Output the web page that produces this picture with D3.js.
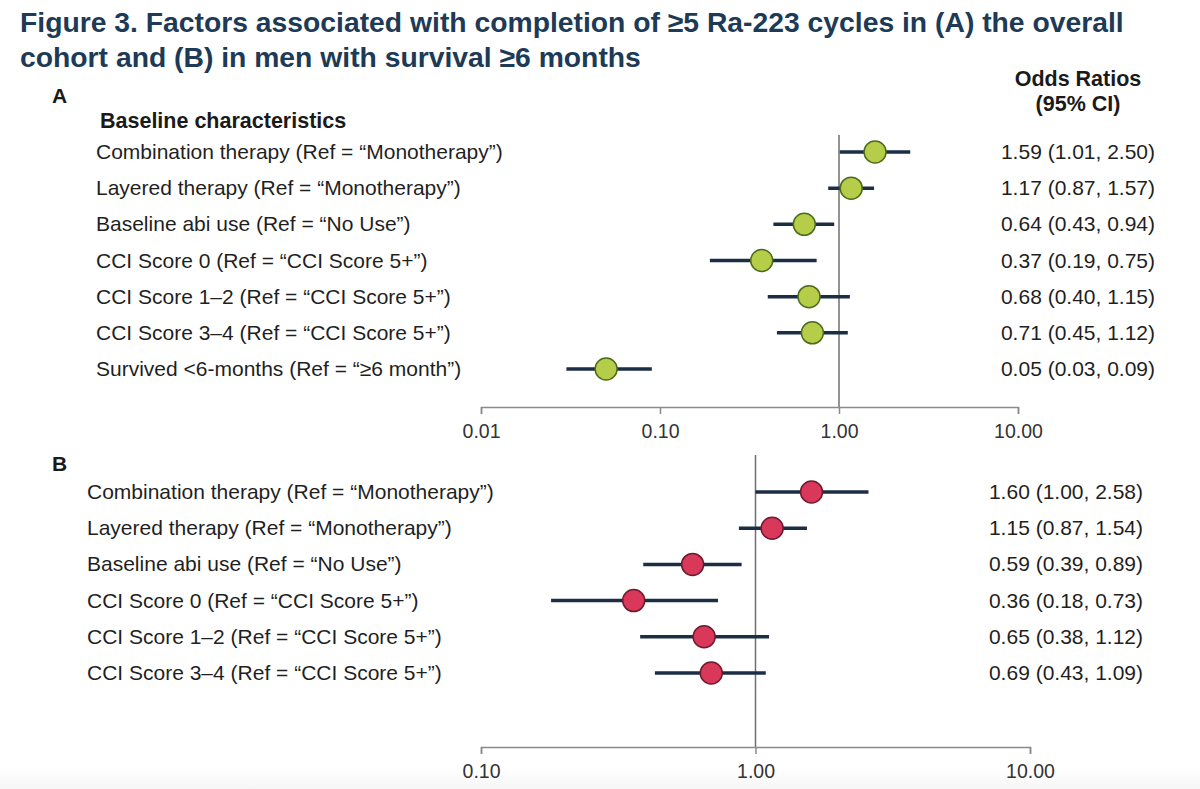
<!DOCTYPE html>
<html>
<head>
<meta charset="utf-8">
<script src="https://cdn.jsdelivr.net/npm/d3@7"></script>
<style>
  html, body { margin: 0; padding: 0; background: #ffffff; }
  svg { display: block; font-family: "Liberation Sans", Arial, sans-serif; }
</style>
</head>
<body>
<svg id="chart" width="1200" height="789"></svg>
<script>
// ---------- DATA ----------
const labelsA = [
  "Combination therapy (Ref = \u201CMonotherapy\u201D)",
  "Layered therapy (Ref = \u201CMonotherapy\u201D)",
  "Baseline abi use (Ref = \u201CNo Use\u201D)",
  "CCI Score 0 (Ref = \u201CCCI Score 5+\u201D)",
  "CCI Score 1\u20132 (Ref = \u201CCCI Score 5+\u201D)",
  "CCI Score 3\u20134 (Ref = \u201CCCI Score 5+\u201D)",
  "Survived <6-months (Ref = \u201C\u22656 month\u201D)"
];
const orA = [1.59, 1.17, 0.64, 0.37, 0.68, 0.71, 0.05];
const loA = [1.01, 0.87, 0.43, 0.19, 0.40, 0.45, 0.03];
const hiA = [2.50, 1.57, 0.94, 0.75, 1.15, 1.12, 0.09];

const labelsB = [
  "Combination therapy (Ref = \u201CMonotherapy\u201D)",
  "Layered therapy (Ref = \u201CMonotherapy\u201D)",
  "Baseline abi use (Ref = \u201CNo Use\u201D)",
  "CCI Score 0 (Ref = \u201CCCI Score 5+\u201D)",
  "CCI Score 1\u20132 (Ref = \u201CCCI Score 5+\u201D)",
  "CCI Score 3\u20134 (Ref = \u201CCCI Score 5+\u201D)"
];
const orB = [1.60, 1.15, 0.59, 0.36, 0.65, 0.69];
const loB = [1.00, 0.87, 0.39, 0.18, 0.38, 0.43];
const hiB = [2.58, 1.54, 0.89, 0.73, 1.12, 1.09];

const ticksA = [0.01, 0.1, 1, 10];
const ticksB = [0.1, 1, 10];
const tickFmt = d3.format(".2f");

// ---------- DRAW ----------
const svg = d3.select("#chart");
const fmtCI = (o, l, h) => `${o.toFixed(2)} (${l.toFixed(2)}, ${h.toFixed(2)})`;

// bottom faint gradient band
const defs = svg.append("defs");
const grad = defs.append("linearGradient").attr("id", "bandGrad").attr("x1", 0).attr("x2", 0).attr("y1", 0).attr("y2", 1);
grad.append("stop").attr("offset", "0%").attr("stop-color", "#ffffff");
grad.append("stop").attr("offset", "100%").attr("stop-color", "#f6f6f6");
svg.append("rect").attr("x", 0).attr("y", 768).attr("width", 1200).attr("height", 21).attr("fill", "url(#bandGrad)");

// title
const titleColor = "#1d3a56";
svg.append("text").attr("x", 20).attr("y", 32)
  .attr("font-size", 28.3).attr("font-weight", "bold").attr("fill", titleColor)
  .text("Figure 3. Factors associated with completion of \u22655 Ra-223 cycles in (A) the overall");
svg.append("text").attr("x", 20).attr("y", 67)
  .attr("font-size", 28.3).attr("font-weight", "bold").attr("fill", titleColor)
  .text("cohort and (B) in men with survival \u22656 months");

// header
svg.append("text").attr("x", 1078).attr("y", 86).attr("text-anchor", "middle")
  .attr("font-size", 21.5).attr("font-weight", "bold").attr("fill", "#1a1a1a").text("Odds Ratios");
svg.append("text").attr("x", 1078).attr("y", 111).attr("text-anchor", "middle")
  .attr("font-size", 21.5).attr("font-weight", "bold").attr("fill", "#1a1a1a").text("(95% CI)");

svg.append("text").attr("x", 52).attr("y", 103)
  .attr("font-size", 21).attr("font-weight", "bold").attr("fill", "#1a1a1a").text("A");
svg.append("text").attr("x", 52).attr("y", 471)
  .attr("font-size", 21).attr("font-weight", "bold").attr("fill", "#1a1a1a").text("B");
svg.append("text").attr("x", 100).attr("y", 128)
  .attr("font-size", 21.5).attr("font-weight", "bold").attr("fill", "#1a1a1a").text("Baseline characteristics");

function panel(cfg) {
  const x = d3.scaleLog().domain(cfg.domain).range(cfg.range);
  const y = d3.scalePoint().domain(d3.range(cfg.labels.length)).range(cfg.yRange);
  const g = svg.append("g");

  // reference line at 1
  g.append("line")
    .attr("x1", x(1)).attr("x2", x(1))
    .attr("y1", cfg.refTop).attr("y2", cfg.axisY)
    .attr("stroke", "#6f6f6f").attr("stroke-width", 1.5);

  // axis
  const axis = d3.axisBottom(x).tickValues(cfg.ticks).tickFormat(tickFmt).tickSizeOuter(0).tickSize(7).tickPadding(10);
  const ax = g.append("g").attr("transform", `translate(0,${cfg.axisY})`).call(axis);
  ax.select(".domain").attr("stroke", "#8a8a8a").attr("stroke-width", 1.5);
  ax.selectAll(".tick line").attr("stroke", "#8a8a8a").attr("stroke-width", 1.5);
  ax.selectAll(".tick text").attr("font-size", 19.5).attr("fill", "#333")
    .attr("font-family", "Liberation Sans, Arial, sans-serif");

  const idx = d3.range(cfg.labels.length);
  // labels
  g.selectAll(".lbl").data(idx).join("text")
    .attr("x", cfg.labelX).attr("y", i => y(i) + 7)
    .attr("font-size", 21).attr("fill", "#1f1f1f")
    .text(i => cfg.labels[i]);
  // CI text
  g.selectAll(".ci").data(idx).join("text")
    .attr("x", cfg.ciX).attr("y", i => y(i) + 7).attr("text-anchor", "middle")
    .attr("font-size", 21).attr("fill", "#1f1f1f")
    .text(i => fmtCI(cfg.or[i], cfg.lo[i], cfg.hi[i]));
  // error bars
  g.selectAll(".err").data(idx).join("line")
    .attr("x1", i => x(cfg.lo[i])).attr("x2", i => x(cfg.hi[i]))
    .attr("y1", i => y(i)).attr("y2", i => y(i))
    .attr("stroke", "#1b2e45").attr("stroke-width", 3.5);
  // markers
  g.selectAll(".pt").data(idx).join("circle")
    .attr("cx", i => x(cfg.or[i])).attr("cy", i => y(i)).attr("r", 11)
    .attr("fill", cfg.fill).attr("stroke", cfg.stroke).attr("stroke-width", 1.5);
}

panel({
  labels: labelsA, or: orA, lo: loA, hi: hiA,
  domain: [0.01, 10], range: [481, 1018], ticks: ticksA,
  yRange: [152, 369], axisY: 407, refTop: 135,
  labelX: 96, ciX: 1078,
  fill: "#b6cd4a", stroke: "#4d6b1c"
});
panel({
  labels: labelsB, or: orB, lo: loB, hi: hiB,
  domain: [0.1, 10], range: [481, 1030], ticks: ticksB,
  yRange: [492, 673], axisY: 747, refTop: 455,
  labelX: 87, ciX: 1066,
  fill: "#d9385b", stroke: "#6e1a2e"
});
</script>
</body>
</html>
